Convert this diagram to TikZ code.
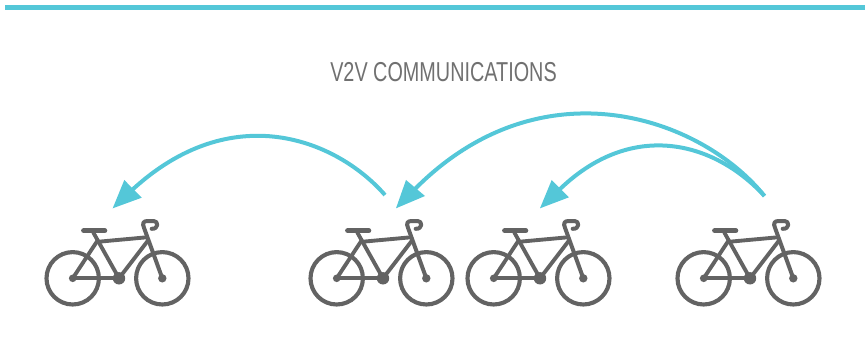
\documentclass[tikz,border=0pt]{standalone}
\usepackage{fontspec}
\usepackage{graphicx}
\setmainfont{Liberation Sans}
\definecolor{teal1}{HTML}{54C7D8}
\definecolor{bikegray}{HTML}{636363}
\definecolor{titlegray}{HTML}{707070}
\tikzset{
  topbar/.style={draw=teal1,line width=3.75pt},
  link/.style={draw=teal1,line width=3pt},
  head/.style={fill=teal1,draw=none},
  title/.style={text=titlegray,inner sep=0pt,anchor=center},
  frame/.style={draw=bikegray,line width=3.1pt},
  tube/.style={draw=bikegray,line width=2.9pt,line cap=round,line join=round},
  pics/bike/.style={code={
    \draw[frame] (0,0) circle (26.2);
    \draw[frame] (89.6,0) circle (26.2);
    \fill[bikegray] (0,0) circle (3.8);
    \fill[bikegray] (89.6,0) circle (4.2);
    \fill[bikegray] (46.3,0) circle (6.2);
    \draw[tube] (0,0) -- (46.3,0);
    \draw[tube] (0,0) -- (25,38);
    \draw[tube] (20.5,46) -- (46.3,0) -- (75.5,38);
    \draw[tube] (25,36.5) -- (74,41);
    \draw[bikegray,line width=3.9pt,line cap=round] (11,47.6) -- (32,47.6);
    \draw[tube,line width=3pt] (89.6,0) -- (71.5,50)
       .. controls (69,55.5) and (71,57.3) .. (75,57.3)
       -- (81,57.3) .. controls (86,57.3) and (86,49) .. (79,49.5);
  }}
}
\begin{document}
\begin{tikzpicture}[x=0.75pt,y=-0.75pt]
\useasboundingbox (0,0) rectangle (865,346);
\coordinate (barL) at (5,7.5);
\coordinate (barR) at (865,7.5);
\draw[topbar] (barL) -- (barR);
\node[title] (ttl) at (443.5,72.5) {\scalebox{0.725}[1]{\fontsize{20.5pt}{23pt}\selectfont V2V COMMUNICATIONS}};
\begin{scope}[y=0.75pt]
\coordinate (b1) at (72.7,-278.3);
\coordinate (b2) at (336.7,-278.3);
\coordinate (b3) at (493.7,-278.3);
\coordinate (b4) at (703.7,-278.3);
\pic at (b1) {bike};
\pic at (b2) {bike};
\pic at (b3) {bike};
\pic at (b4) {bike};
\end{scope}
% arrows
\coordinate (s2) at (385,195);
\coordinate (e1) at (131,191);
\coordinate (s4) at (764.5,196);
\coordinate (e2) at (414,190);
\coordinate (e3) at (558,191);
\draw[link] (s2) .. controls (337,140) and (232,97) .. (e1);
\draw[link] (s4) .. controls (700,116) and (540,62) .. (e2);
\draw[link] (s4) .. controls (713,140) and (630,120) .. (e3);
\fill[head] (112.7,208.3) -- (124.3,180) -- (141.7,197.7) -- cycle;
\fill[head] (396,208.3) -- (406,180) -- (425,196) -- cycle;
\fill[head] (540,208.3) -- (551.7,180) -- (569,197.3) -- cycle;
\end{tikzpicture}
\end{document}
